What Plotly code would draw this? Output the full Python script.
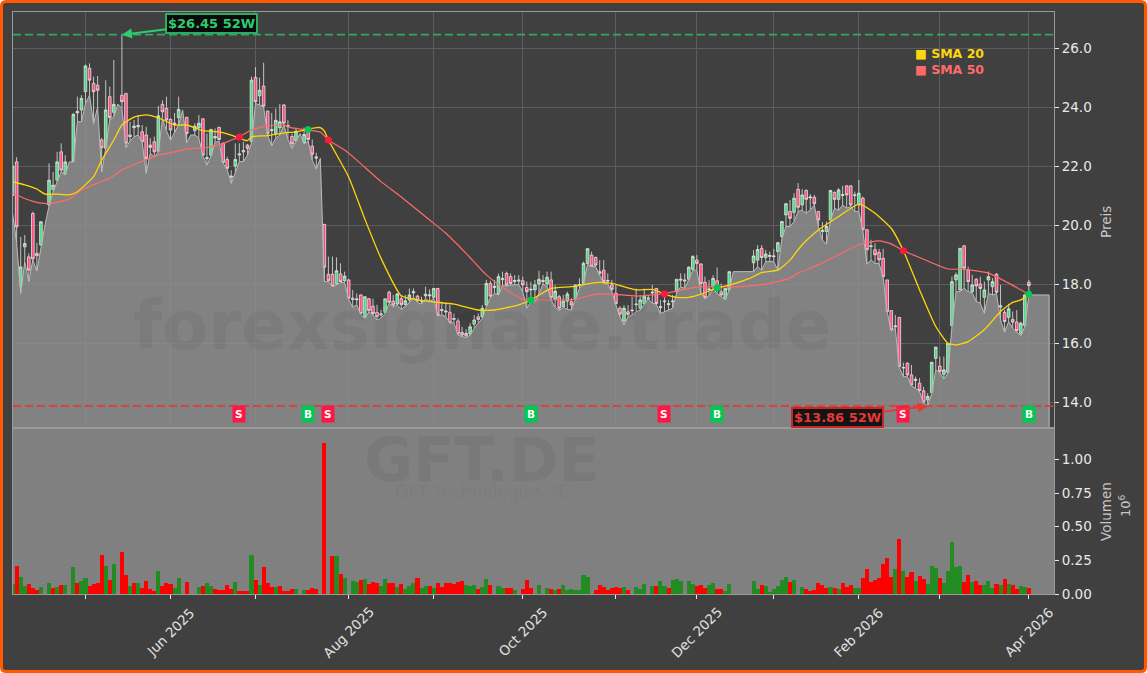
import pandas as pd
import plotly.graph_objects as go
from plotly.subplots import make_subplots

W, H = 1147, 673
L, R, T, B = 13, 93, 12, 79

# trading days, holidays dropped; the last five rows only carry the area
holidays = ["2025-04-18", "2025-04-21", "2025-05-01", "2025-12-24", "2025-12-25",
            "2025-12-26", "2025-12-31", "2026-01-01"]
days = pd.bdate_range("2025-04-03", "2026-04-08")
dates = [d.strftime("%Y-%m-%d") for d in days if d.strftime("%Y-%m-%d") not in holidays]

month_ticks = ["2025-05-02", "2025-06-02", "2025-07-01", "2025-08-01", "2025-09-01", "2025-10-01",
               "2025-11-03", "2025-12-01", "2026-01-02", "2026-02-02", "2026-03-02", "2026-04-01"]
month_labels = {"2025-06-02": "Jun 2025", "2025-08-01": "Aug 2025", "2025-10-01": "Oct 2025",
                "2025-12-01": "Dec 2025", "2026-02-02": "Feb 2026", "2026-04-01": "Apr 2026"}

N = None
opens = [
    21.0, 22.14, 17.96, 19.26, 18.92, 20.39, 19.04, 19.32, N, 20.68,
    21.2, 21.52, 22.48, 21.71, N, 22.14, 23.8, 23.9, 24.52, 25.31,
    24.8, 24.74, 22.88, 22.6, 24.35, 23.82, N, 24.4, 24.46, 23.05,
    23.3, 23.33, 23.16, 23.05, 22.71, 22.82, 22.5, 24.09, 23.95, 23.58,
    23.4, 23.64, N, 23.65, N, 23.2, 23.3, 23.6, 22.25, 22.37,
    22.95, 23.31, 22.77, 22.22, 21.66, 22.0, 22.37, 22.48, 22.71, 22.82,
    25.0, 24.38, 24.71, 23.86, 23.2, 23.1, 23.3, 24.07, 23.33, 23.0,
    22.85, N, 22.79, 23.22, 22.67, 22.31, N, 20.02, 18.33, 18.33,
    18.0, 18.34, 18.11, 18.14, 17.52, 17.5, 17.63, 16.87, 17.5, 17.25,
    17.04, 16.95, 17.04, 17.72, 17.42, 17.32, 17.5, 17.3, 17.46, 17.7,
    17.59, 17.45, 17.6, 17.6, 17.55, 17.85, 17.1, 17.05, 17.04, 16.8,
    16.75, 16.36, 16.33, 16.31, 16.64, 16.89, 16.89, 17.29, 18.02, 17.88,
    17.66, 18.15, 18.36, 18.25, 18.08, 18.1, 18.11, 17.88, 17.8, 17.8,
    18.0, 18.12, 18.0, 18.14, 17.49, 17.57, 17.23, 17.42, 17.4, 17.5,
    17.95, 18.02, 18.7, 18.98, 18.9, 18.42, 18.47, 18.12, 17.97, 17.68,
    17.18, 16.75, 17.06, 17.12, 17.3, 17.18, 17.34, 17.5, 17.7, 17.85,
    17.2, 17.4, 17.3, 17.4, 17.74, 18.13, 18.1, 18.16, 18.5, 18.81,
    18.68, 18.06, 17.8, 17.91, 18.11, 17.74, 17.48, 17.8, N, N,
    N, N, N, 18.72, 18.81, 19.21, 18.9, 18.93, 18.93, 19.1,
    19.61, 20.34, 20.46, 20.43, 21.21, 20.68, 21.17, 20.92, 20.94, 20.46,
    19.78, 19.78, 20.17, 21.1, 20.87, 21.0, 21.33, 21.33, 21.0, 20.68,
    20.91, 19.84, 19.27, 19.16, 19.07, 18.87, 18.14, 17.1, 16.55, 16.87,
    15.15, 15.32, 14.92, 14.73, 14.64, 14.38, 14.07, 14.32, 15.48, 15.22,
    14.94, 15.0, 16.59, 18.14, 17.8, 19.3, 18.46, 17.74, 18.16, 18.0,
    17.55, 18.14, 17.91, 18.33, 17.22, 17.04, 16.87, 16.8, 16.71, 16.33,
    16.59, 18.06,
]
highs = [
    22.44, 22.3, 19.6, 19.66, 19.04, 20.45, 19.4, 20.11, N, 22.09,
    21.8, 22.48, 22.77, 22.37, N, 23.8, 24.35, 24.4, 25.44, 25.48,
    25.03, 25.05, 22.95, 24.91, 24.69, 25.59, N, 26.45, 24.46, 23.5,
    23.56, 23.73, 23.39, 23.33, 22.95, 23.0, 24.04, 24.23, 24.35, 23.62,
    23.8, 24.35, N, 23.67, N, 23.45, 23.73, 23.62, 23.1, 23.24,
    23.27, 23.33, 22.8, 22.31, 21.86, 22.77, 22.77, 22.82, 22.75, 25.03,
    25.35, 25.0, 25.5, 23.88, 23.8, 23.95, 24.1, 24.1, 23.55, 23.1,
    23.3, N, 23.3, 23.3, 22.9, 22.45, N, 20.04, 18.93, 18.93,
    18.9, 18.7, 18.42, 18.16, 17.8, 17.68, 17.65, 17.57, 17.52, 17.5,
    17.3, 17.12, 17.5, 17.77, 17.63, 17.7, 17.63, 17.63, 17.85, 17.85,
    17.63, 17.57, 17.91, 17.82, 17.85, 17.87, 17.4, 17.35, 17.29, 17.0,
    16.84, 16.55, 16.47, 16.67, 16.95, 17.0, 17.29, 18.14, 18.11, 18.14,
    18.36, 18.42, 18.42, 18.36, 18.3, 18.3, 18.25, 18.08, 18.08, 18.14,
    18.45, 18.3, 18.42, 18.42, 17.97, 17.63, 17.63, 17.74, 17.52, 17.97,
    18.2, 18.76, 19.21, 19.1, 18.93, 18.81, 18.81, 18.36, 18.14, 17.97,
    17.25, 17.29, 17.29, 17.57, 17.85, 17.63, 17.85, 17.63, 17.97, 17.87,
    17.46, 17.63, 17.46, 17.63, 18.16, 18.36, 18.36, 18.6, 18.98, 18.98,
    18.7, 18.25, 18.13, 18.3, 18.56, 18.02, 17.85, 18.42, N, N,
    N, N, N, 19.15, 19.32, 19.32, 19.15, 19.1, 19.19, 19.43,
    20.12, 20.75, 20.85, 21.08, 21.42, 21.21, 21.21, 21.05, 21.02, 20.46,
    20.1, 20.12, 21.19, 21.14, 21.25, 21.33, 21.33, 21.33, 21.13, 21.53,
    20.96, 19.86, 19.5, 19.38, 19.19, 19.19, 18.14, 17.1, 16.95, 16.87,
    15.34, 15.34, 15.26, 14.86, 14.81, 14.52, 14.3, 15.35, 15.88, 15.54,
    15.54, 15.99, 18.25, 18.39, 19.21, 19.3, 18.59, 18.31, 18.2, 18.25,
    18.08, 18.42, 18.2, 18.37, 17.97, 17.12, 17.33, 17.07, 17.12, 16.73,
    17.67, 18.14,
]
# lows also draw the grey area, so days without a candle still hold a level
lows = [
    20.4, 19.4, 17.68, 18.75, 18.08, 18.82, 18.44, 19.3, 20.0, 20.65,
    21.13, 21.47, 21.8, 21.71, 22.14, 22.14, 23.5, 23.5, 24.12, 24.4,
    23.44, 24.0, 21.8, 22.6, 23.56, 23.67, 24.1, 23.95, 22.62, 22.85,
    22.99, 23.05, 22.82, 21.75, 22.43, 22.31, 22.48, 23.6, 23.2, 22.88,
    23.15, 23.4, 23.9, 22.79, 23.05, 23.05, 22.95, 22.34, 22.03, 22.34,
    22.82, 22.82, 22.09, 21.88, 21.41, 21.8, 22.15, 22.15, 22.37, 22.79,
    24.12, 24.07, 24.0, 23.05, 22.68, 22.95, 23.05, 23.4, 22.9, 22.6,
    22.85, 23.1, 22.75, 22.85, 22.2, 21.9, 22.26, 18.08, 18.08, 17.91,
    17.97, 18.05, 18.05, 17.48, 17.21, 17.3, 16.97, 16.84, 17.06, 16.95,
    16.78, 16.84, 17.0, 17.35, 17.23, 17.29, 17.14, 17.27, 17.37, 17.55,
    17.38, 17.32, 17.51, 17.4, 17.52, 16.92, 16.95, 16.9, 16.67, 16.7,
    16.27, 16.22, 16.19, 16.27, 16.5, 16.67, 16.84, 17.23, 17.55, 17.68,
    17.63, 17.95, 17.93, 17.97, 17.98, 17.98, 17.74, 17.18, 17.4, 17.4,
    17.68, 18.0, 17.91, 17.46, 17.21, 17.1, 17.21, 17.14, 17.12, 17.46,
    17.85, 18.02, 18.67, 18.59, 18.59, 18.3, 18.02, 18.0, 17.74, 17.29,
    16.89, 16.61, 16.89, 16.95, 17.06, 17.12, 17.29, 17.5, 17.35, 17.32,
    17.0, 17.06, 17.12, 17.18, 17.7, 17.91, 17.85, 18.14, 18.47, 18.47,
    17.7, 17.5, 17.6, 17.85, 17.68, 17.57, 17.48, 17.8, 18.42, 18.42,
    18.42, 18.42, 18.42, 18.42, 18.59, 18.47, 18.76, 18.76, 18.76, 18.47,
    19.55, 19.95, 19.95, 20.12, 20.46, 20.5, 20.4, 20.51, 20.68, 19.95,
    19.5, 19.35, 20.15, 20.57, 20.5, 20.68, 20.57, 20.63, 20.46, 20.46,
    19.81, 18.67, 18.82, 18.7, 18.7, 18.23, 17.05, 16.42, 16.5, 15.18,
    14.86, 14.86, 14.55, 14.47, 14.35, 13.98, 13.86, 14.3, 15.09, 15.0,
    14.78, 14.98, 16.56, 17.74, 17.74, 17.86, 17.74, 17.71, 17.41, 17.35,
    17.01, 17.69, 17.63, 17.67, 16.78, 16.37, 16.73, 16.5, 16.39, 16.25,
    16.56, 17.63, 17.63, 17.63, 17.63, 17.63, 17.63,
]
closes = [
    22.0, 19.94, 18.58, 19.37, 18.47, 18.85, 18.96, 20.11, N, 21.52,
    21.35, 22.14, 21.86, 22.14, N, 23.75, 23.85, 24.29, 25.39, 24.91,
    24.52, 24.57, 22.62, 23.9, 23.64, 24.09, N, 24.18, 22.77, 23.0,
    23.35, 23.37, 22.82, 22.26, 22.63, 22.48, 23.7, 23.84, 23.56, 23.22,
    23.45, 23.92, N, 23.1, N, 23.35, 23.45, 22.37, 22.28, 23.24,
    23.0, 22.9, 22.12, 21.92, 21.62, 22.22, 22.41, 22.52, 22.6, 24.91,
    24.18, 24.57, 24.03, 23.1, 23.23, 23.55, 23.5, 23.45, 23.37, 22.75,
    23.18, N, 23.07, 22.9, 22.4, 22.27, N, 18.57, 18.11, 17.93,
    18.45, 18.08, 18.27, 17.52, 17.48, 17.47, 17.0, 17.57, 17.1, 17.0,
    16.89, 16.99, 17.5, 17.38, 17.29, 17.66, 17.3, 17.43, 17.63, 17.74,
    17.43, 17.42, 17.65, 17.63, 17.85, 16.95, 17.13, 17.08, 16.69, 16.83,
    16.31, 16.27, 16.25, 16.55, 16.78, 16.8, 17.18, 18.02, 17.59, 17.92,
    18.25, 18.18, 17.97, 18.02, 18.12, 18.13, 17.97, 17.74, 17.82, 17.97,
    18.16, 18.09, 18.23, 17.54, 17.76, 17.18, 17.42, 17.66, 17.29, 17.97,
    17.98, 18.7, 19.2, 18.6, 18.64, 18.36, 18.08, 18.1, 17.82, 17.34,
    16.98, 17.18, 16.97, 17.1, 17.32, 17.46, 17.59, 17.52, 17.72, 17.34,
    17.23, 17.42, 17.33, 17.42, 18.16, 18.16, 18.13, 18.57, 18.93, 18.7,
    18.02, 17.55, 17.83, 18.19, 17.8, 17.63, 17.85, 18.42, N, N,
    N, N, N, 18.95, 19.17, 18.9, 19.02, 18.97, 18.95, 19.4,
    20.12, 20.72, 20.23, 20.91, 20.6, 21.02, 20.87, 20.95, 20.72, 20.17,
    19.82, 19.95, 21.17, 20.87, 21.19, 21.03, 21.02, 20.68, 21.02, 21.08,
    19.84, 19.16, 19.29, 18.99, 18.82, 18.25, 17.07, 16.45, 16.58, 15.2,
    15.17, 14.92, 14.58, 14.77, 14.39, 14.0, 14.19, 15.35, 15.86, 15.03,
    15.09, 15.99, 18.08, 18.31, 19.21, 18.54, 18.08, 17.97, 17.94, 17.85,
    17.8, 18.25, 18.08, 17.72, 17.26, 16.73, 17.16, 16.71, 16.42, 16.67,
    17.63, 17.95,
]

# in millions
volume = [
    .074, .207, .126, .06, .074, .047, .03, .052, 0, .081,
    .044, .052, .067, .067, 0, .2, .081, .096, .119, .059,
    .074, .081, .289, .207, .104, .222, 0, .311, .141, .059,
    .081, .081, .044, .096, .037, .022, .17, .059, .081, .074,
    .044, .119, 0, .089, 0, 0, .052, .059, .081, .059,
    .037, .03, .03, .067, .037, .089, .022, .022, .022, .289,
    .104, .067, .2, .081, .052, .052, .059, .022, .022, .037,
    .037, 0, .03, .03, .044, .037, 0, 1.12, 0, .281,
    .281, .148, .119, 0, .096, .089, .104, .111, .074, .089,
    .081, .059, .111, .081, .081, .052, .074, .037, .059, .081,
    .119, .044, .059, .059, .044, .081, .052, .081, .081, .074,
    .089, .096, .067, .059, .067, .037, .052, .111, .067, 0,
    .059, .044, .044, .044, .03, 0, .037, .104, .044, 0,
    .067, 0, .044, .037, .03, .037, .067, .03, .037, .03,
    .03, .141, .126, 0, .03, .067, .052, .03, .044, .052,
    .044, .052, .03, 0, .052, .037, .074, 0, .059, .059,
    .096, .059, .044, .104, .111, .096, 0, .096, .074, .059,
    .067, .044, .067, .081, .037, .037, .022, .074, 0, 0,
    0, 0, 0, .096, .037, .067, .059, .015, .037, .059,
    .104, .126, .089, .104, 0, .052, .037, .022, .03, .081,
    .067, .044, .052, .044, .037, .081, .052, .067, .044, .044,
    .119, .185, .089, .104, .119, .222, .267, .126, .185, .407,
    .17, .126, .163, .096, .133, .111, .074, .207, .193, .119,
    .081, .17, .385, .2, .207, .089, .141, .089, .096, .067,
    .067, .096, .044, .074, .067, .111, .074, .067, .037, .059,
    .052, .044,
]
vol_side = (
    "grggrrrg.g" "rgrg.grggr" "rrrgrg.rrg" "rgrrrrgrrr" "gg.r..grgg"
    "rrrrrgrrrg" "rgrrrgrrrr" "g.grrr.r.r" "grg.ggrgrr" "rggrrgrggg"
    "rggrgrrrrr" "rrgggrggr." "ggrrg.rrr." "g.grgrgggg" "ggg.rrrrrr"
    "rgr.ggg.gr" "ggrggg.ggr" "rrggrrgg.." "...ggrgggg" "ggrg.grrrr"
    "rrgrgrrrgg" "rrrrrrrrgr" "grrgrrgggr" "gggggrrgrr" "gggrgrgrrg"
    "gr"
)

sma20_pos = [0, 3, 6, 8, 11, 14, 16, 20, 22, 25, 27, 30, 33, 36, 40, 43, 47, 51, 54, 58, 59, 63, 67, 70, 73, 75, 76,
             77, 78, 83, 87, 91, 96, 101, 109, 115, 119, 125, 128, 133, 138, 144, 148, 154, 158, 161, 164, 167, 170,
             174, 177, 182, 185, 189, 192, 195, 199, 204, 209, 213, 217, 220, 224, 228, 231, 233, 236, 240, 244,
             247, 249, 251]
sma20 = [21.47, 21.36, 21.22, 21.05, 21.05, 21.02, 21.13, 21.64, 22.2, 22.88, 23.39, 23.66, 23.73, 23.63, 23.39,
         23.39, 23.2, 23.16, 23.05, 22.86, 22.99, 23.03, 23.12, 23.16, 23.25, 23.3, 23.3,
         23.18, 22.88, 21.63, 20.2, 18.87,
         17.6, 17.44, 17.32, 17.12, 17.12, 17.29, 17.46, 17.85, 17.91, 18.05, 18.02, 17.8, 17.82, 17.66, 17.55,
         17.55, 17.66, 17.87, 17.96, 18.19, 18.39, 18.47, 18.81, 19.33, 19.83, 20.29, 20.71, 20.4, 19.89, 19.13,
         17.8, 16.56, 15.99, 15.94, 16.05, 16.45, 17.07, 17.38, 17.46, 17.65]
sma50_pos = [0, 3, 7, 10, 14, 17, 21, 24, 27, 31, 36, 40, 43, 47, 50, 53, 56, 59, 63, 67, 69, 73, 76, 78, 82, 85,
             91, 96, 103, 107, 112, 117, 122, 126, 130, 134, 139, 144, 148, 154, 158, 161, 166, 170, 174, 180, 187,
             192, 194, 199, 204, 209, 214, 217, 220, 225, 231, 235, 241, 246, 251]
sma50 = [21.09, 20.9, 20.74, 20.74, 20.88, 21.19, 21.42, 21.59, 21.86, 22.1, 22.37, 22.48, 22.58, 22.61, 22.68,
         22.82, 22.99, 23.22, 23.37, 23.39, 23.29, 23.22, 23.15, 22.88, 22.54, 22.2, 21.47, 20.95, 20.17, 19.72,
         19.04, 18.31, 17.8, 17.48, 17.46, 17.46, 17.48, 17.66, 17.66, 17.59, 17.63, 17.68, 17.82, 17.91, 17.9,
         17.91, 18.02, 18.2, 18.37, 18.65, 18.99, 19.33, 19.46, 19.36, 19.13, 18.84, 18.51, 18.5, 18.37, 18.03,
         17.65]

signal_pos = [56, 73, 78, 128, 161, 174, 220, 251]
signal_side = ["S", "B", "S", "B", "S", "B", "S", "B"]
signal_price = [22.98, 23.24, 22.88, 17.46, 17.66, 17.87, 19.13, 17.65]

high_52w = 26.45
low_52w = 13.86
high_52w_pos = 27
low_52w_pos = 226

BG = "#404040"
FONT = "DejaVu Sans"
YELLOW = "#ffd60a"
SALMON = "#ff6b6b"
SELL = "#ff1744"
BUY = "#00c853"


# pixel position on the page -> paper coordinates
def px(x):
    return (x - L) / (W - L - R)


def py(y):
    return 1 - (y - T) / (H - T - B)


fig = make_subplots(rows=2, cols=1, shared_xaxes=True, vertical_spacing=0, row_heights=[0.7148, 0.2852])

fig.add_trace(go.Candlestick(
    x=dates[:252], open=opens, high=highs, low=lows[:252], close=closes,
    increasing=dict(line=dict(color="#e4e4e4", width=0.8), fillcolor="#4fd982"),
    decreasing=dict(line=dict(color="#e4e4e4", width=0.8), fillcolor="#ff4a7c"),
    whiskerwidth=0, showlegend=False), row=1, col=1)

# grey area under the lows, closed on the right by a drop to zero
fig.add_trace(go.Scatter(
    x=dates + [dates[-1]], y=lows + [0], mode="lines", fill="tozeroy",
    line=dict(color="#bcbcbc", width=1), fillcolor="rgba(145,145,145,0.82)",
    showlegend=False), row=1, col=1)

fig.add_trace(go.Scatter(x=[dates[i] for i in sma50_pos], y=sma50, mode="lines",
                         line=dict(color=SALMON, width=1.2, shape="spline", smoothing=0.5),
                         showlegend=False), row=1, col=1)
fig.add_trace(go.Scatter(x=[dates[i] for i in sma20_pos], y=sma20, mode="lines",
                         line=dict(color=YELLOW, width=1.3, shape="spline", smoothing=0.5),
                         showlegend=False), row=1, col=1)

fig.add_trace(go.Scatter(
    x=[dates[i] for i in signal_pos], y=signal_price, mode="markers",
    marker=dict(size=7, color=[SELL if s == "S" else BUY for s in signal_side]),
    showlegend=False), row=1, col=1)

fig.add_trace(go.Bar(
    x=dates[:252], y=volume, marker=dict(color=["#228b22" if s == "g" else "#ff0000" for s in vol_side], line_width=0),
    showlegend=False), row=2, col=1)

fig.add_hline(y=high_52w, line=dict(color="#2fa866", width=1.8, dash="8px,4px"), row=1, col=1)
fig.add_hline(y=low_52w, line=dict(color="#e53935", width=1.8, dash="8px,4px"), row=1, col=1)

# page background, frame and grey lower pane
fig.add_shape(type="path", xref="paper", yref="paper", layer="below",
              path=f"M {px(6)} {py(1.5)} L {px(W - 6)} {py(1.5)} Q {px(W - 1.5)} {py(1.5)} {px(W - 1.5)} {py(6)} "
                   f"L {px(W - 1.5)} {py(H - 6)} Q {px(W - 1.5)} {py(H - 1.5)} {px(W - 6)} {py(H - 1.5)} "
                   f"L {px(6)} {py(H - 1.5)} Q {px(1.5)} {py(H - 1.5)} {px(1.5)} {py(H - 6)} "
                   f"L {px(1.5)} {py(6)} Q {px(1.5)} {py(1.5)} {px(6)} {py(1.5)} Z",
              fillcolor=BG, line=dict(color="#ff5a00", width=3))
fig.add_shape(type="rect", xref="paper", yref="paper", layer="below", x0=0, x1=1, y0=0, y1=py(428),
              fillcolor="#808080", line_width=0)

annotations = []

for day in month_ticks:
    if day in month_labels:
        annotations.append(dict(x=day, xref="x2", y=py(632), yref="paper", text=month_labels[day], showarrow=False,
                                textangle=-45, xanchor="center", yanchor="middle",
                                font=dict(size=13.5, color="#e0e0e0")))

for pos, side in zip(signal_pos, signal_side):
    annotations.append(dict(x=dates[pos], xref="x", y=13.6, yref="y", text=f"<b>{side}</b>", showarrow=False,
                            bgcolor=SELL if side == "S" else BUY, borderpad=2,
                            font=dict(size=10.5, color="white")))

annotations.append(dict(x=dates[high_52w_pos], xref="x", y=high_52w, yref="y", text="<b>$26.45 52W</b>",
                        showarrow=True, ax=90, ay=-11, arrowhead=2, arrowsize=1, arrowwidth=2,
                        arrowcolor="#2ecc71", bgcolor="#0a0a0a", bordercolor="#27ae60", borderwidth=2, borderpad=1,
                        font=dict(size=13, color="#2ecc71")))
annotations.append(dict(x=dates[low_52w_pos], xref="x", y=low_52w, yref="y", text="<b>$13.86 52W</b>",
                        showarrow=True, ax=-90, ay=11, arrowhead=2, arrowsize=1, arrowwidth=2,
                        arrowcolor="#e53935", bgcolor="#141414", bordercolor="#c62828", borderwidth=2, borderpad=1,
                        font=dict(size=13, color="#e53935")))


def page_text(x, y, text, size, color, angle=0, xanchor="center"):
    return dict(x=px(x), y=py(y), xref="paper", yref="paper", showarrow=False, text=text, textangle=angle,
                xanchor=xanchor, yanchor="middle", font=dict(size=size, color=color))


annotations.append(page_text(913, 54, "<b>■ SMA 20</b>", 12.5, YELLOW, xanchor="left"))
annotations.append(page_text(913, 70, "<b>■ SMA 50</b>", 12.5, SALMON, xanchor="left"))
annotations.append(page_text(482, 326, "<b>forexsignale.trade</b>", 67, "rgba(0,0,0,0.05)"))
annotations.append(page_text(482, 460, "<b>GFT.DE</b>", 60, "rgba(0,0,0,0.05)"))
annotations.append(page_text(482, 492, "GFT Technologies SE", 17, "rgba(0,0,0,0.05)"))
annotations.append(page_text(1106, 222, "Preis", 13.5, "#c8c8c8", angle=-90))
annotations.append(page_text(1106, 512, "Volumen", 13.5, "#c8c8c8", angle=-90))
annotations.append(page_text(1125, 506, "10<sup>6</sup>", 13, "#c8c8c8", angle=-90))

fig.update_layout(
    width=W, height=H,
    margin=dict(l=L, r=R, t=T, b=B),
    paper_bgcolor="white", plot_bgcolor=BG,
    font=dict(family=FONT, color="#e0e0e0", size=13.5),
    bargap=0, boxgap=0.35, boxgroupgap=0, showlegend=False, hovermode=False,
    annotations=annotations,
)
fig.update_xaxes(type="category", categoryorder="array", categoryarray=dates, range=[0.1, 257.2],
                 rangeslider_visible=False, tickmode="array", tickvals=month_ticks, showticklabels=False,
                 showgrid=True, gridcolor="#5c5c5c", gridwidth=1, showline=True, linecolor="#9a9a9a", mirror=True)
fig.update_xaxes(ticks="", row=1, col=1)
fig.update_xaxes(ticks="outside", ticklen=4, tickcolor="#e8e8e8", showgrid=False, row=2, col=1)
fig.update_yaxes(side="right", ticks="outside", ticklen=4, tickcolor="#e8e8e8", showline=True,
                 linecolor="#9a9a9a", mirror=True, zeroline=False, tickfont=dict(size=13.5, color="#e8e8e8"))
fig.update_yaxes(range=[13.12, 27.22], dtick=2, tick0=14, tickformat=".1f", showgrid=True, gridcolor="#5c5c5c",
                 row=1, col=1)
fig.update_yaxes(range=[0, 1.233], dtick=0.25, tick0=0, tickformat=".2f", showgrid=False, row=2, col=1)

fig.write_html("out.html", config=dict(displayModeBar=False),
               post_script="document.body.style.margin='0';document.body.style.overflow='hidden';")
